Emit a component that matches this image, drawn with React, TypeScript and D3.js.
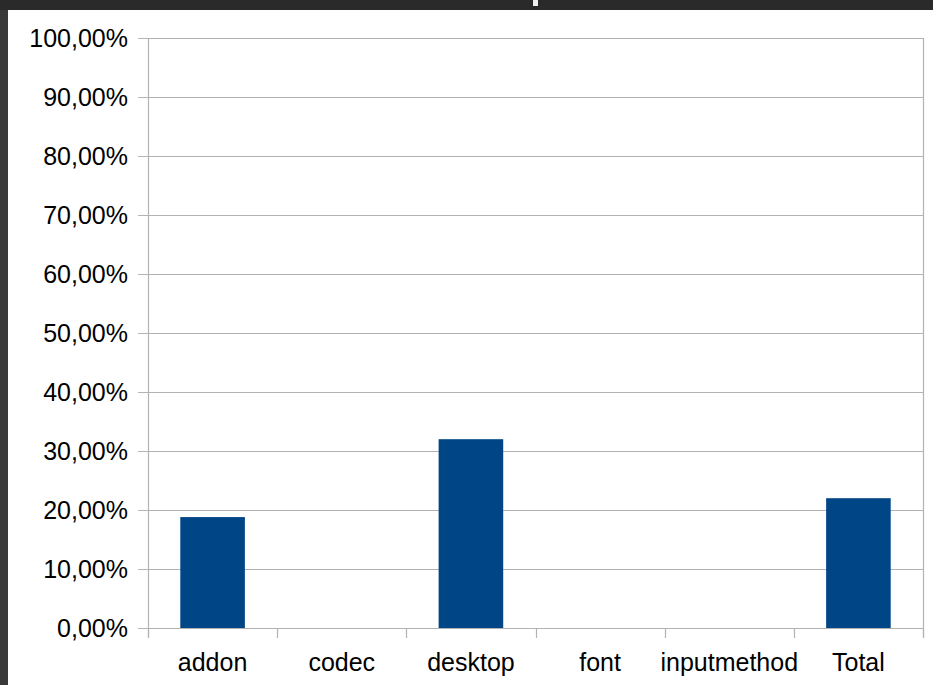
import React from "react";
import * as d3 from "d3";

const categories = ["addon", "codec", "desktop", "font", "inputmethod", "Total"];
const values = [0.188, 0, 0.32, 0, 0, 0.22];
const yTicks = [0, 0.1, 0.2, 0.3, 0.4, 0.5, 0.6, 0.7, 0.8, 0.9, 1.0];

const W = 933;
const H = 685;
const plot = { left: 148, right: 923, top: 38, bottom: 628 };
const FONT = "'Liberation Sans', Arial, sans-serif";

const fmt = (v: number) => (v * 100).toFixed(2).replace(".", ",") + "%";

export default function App() {
  const x = d3
    .scaleBand<string>()
    .domain(categories)
    .range([plot.left, plot.right])
    .paddingInner(0)
    .paddingOuter(0);
  const y = d3.scaleLinear().domain([0, 1]).range([plot.bottom, plot.top]);
  const bw = x.bandwidth() * 0.5;
  const boundaries = [...categories.map((c) => x(c) as number), plot.right];

  return (
    <svg
      width={W}
      height={H}
      style={{ position: "fixed", left: 0, top: 0, display: "block" }}
    >
      <rect x={0} y={0} width={W} height={H} fill="#2a2a2a" />
      <rect x={0} y={10} width={8} height={H - 10} fill="#3a3a3a" />
      <rect x={533} y={0} width={5} height={6} fill="#f0f0f0" />
      <rect x={8} y={10} width={W - 8} height={H - 10} fill="#ffffff" />

      {/* gridlines */}
      {yTicks.map((t) => (
        <line
          key={"g" + t}
          x1={plot.left - 10}
          x2={plot.right}
          y1={Math.round(y(t)) + 0.5}
          y2={Math.round(y(t)) + 0.5}
          stroke="#b3b3b3"
          strokeWidth={1.2}
        />
      ))}
      {/* right border */}
      <line
        x1={plot.right + 0.5}
        x2={plot.right + 0.5}
        y1={plot.top}
        y2={plot.bottom + 10}
        stroke="#b3b3b3"
        strokeWidth={1.2}
      />

      {/* bars */}
      {categories.map((c, i) =>
        values[i] > 0 ? (
          <rect
            key={"b" + c}
            x={(x(c) as number) + x.bandwidth() / 2 - bw / 2}
            y={y(values[i])}
            width={bw}
            height={plot.bottom - y(values[i])}
            fill="#004586"
          />
        ) : null
      )}

      {/* axes */}
      <line
        x1={plot.left + 0.5}
        x2={plot.left + 0.5}
        y1={plot.top}
        y2={plot.bottom + 10}
        stroke="#b3b3b3"
        strokeWidth={1.2}
      />
      {boundaries.map((b, i) => (
        <line
          key={"t" + i}
          x1={Math.round(b) + 0.5}
          x2={Math.round(b) + 0.5}
          y1={plot.bottom}
          y2={plot.bottom + 10}
          stroke="#b3b3b3"
          strokeWidth={1.2}
        />
      ))}

      {/* y labels */}
      {yTicks.map((t) => (
        <text
          key={"l" + t}
          x={128}
          y={y(t) + 9}
          textAnchor="end"
          fontFamily={FONT}
          fontSize={25}
          fill="#000"
        >
          {fmt(t)}
        </text>
      ))}

      {/* x labels */}
      {categories.map((c) => (
        <text
          key={"x" + c}
          x={(x(c) as number) + x.bandwidth() / 2}
          y={671}
          textAnchor="middle"
          fontFamily={FONT}
          fontSize={25}
          fill="#000"
        >
          {c}
        </text>
      ))}
    </svg>
  );
}
